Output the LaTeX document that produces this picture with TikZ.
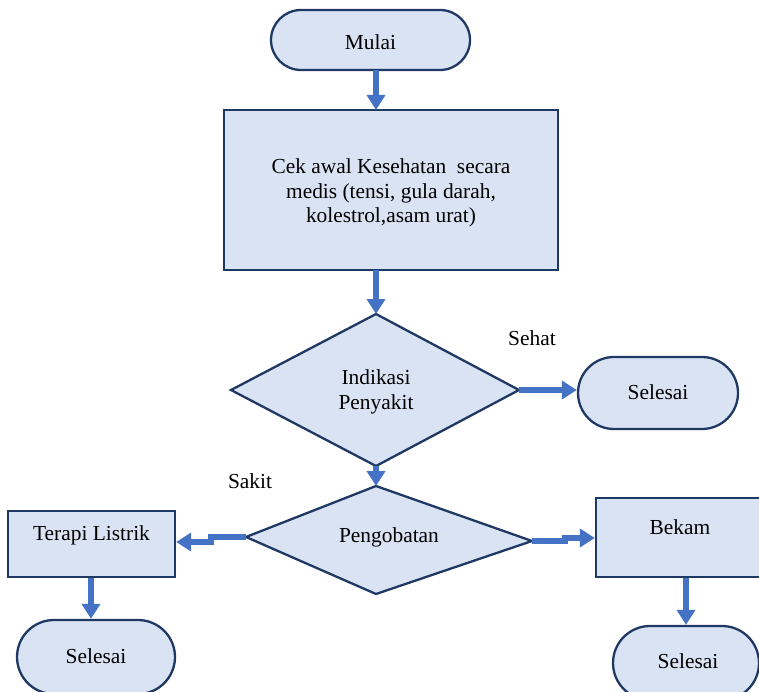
\documentclass[tikz,border=0pt]{standalone}
\usepackage{fontspec}
\setmainfont{Liberation Serif}
\usetikzlibrary{arrows.meta}
\definecolor{boxfill}{HTML}{DAE3F3}
\definecolor{boxline}{HTML}{1F3864}
\definecolor{arrowblue}{HTML}{4472C4}
\begin{document}
\begin{tikzpicture}[x=1pt,y=-1pt,
  txt/.style={font=\fontsize{21.4}{24.5}\selectfont, align=center, inner sep=0pt, text=black},
  stadium/.style={draw=boxline, fill=boxfill, line width=2.3pt, rounded corners=34pt, minimum width=#1, minimum height=68pt, inner sep=0pt},
  rectbox/.style={draw=boxline, fill=boxfill, line width=2.3pt, inner sep=0pt},
  diam/.style={draw=boxline, fill=boxfill, line width=2.3pt, line join=miter},
  flow/.style={draw=arrowblue, line width=6pt, line join=miter, -{Triangle[length=15pt,width=18pt]}}
]
\useasboundingbox (0,0) rectangle (759,692);
\clip (0,0) rectangle (759,692);

% start
\node[stadium=199pt, minimum height=60pt, rounded corners=30pt] (mulai) at (370.5,40) {};
\node[txt] (tmulai) at (370.5,42) {Mulai};

% check box
\node[rectbox, minimum width=334pt, minimum height=160pt] (cek) at (391,190) {};
\node[txt] (tcek) at (391,193) {Cek awal Kesehatan ~secara\\medis (tensi, gula darah,\\kolestrol,asam urat)};

% diamond 1
\coordinate (d1t) at (376,314);
\coordinate (d1r) at (519,390);
\coordinate (d1b) at (376,466);
\coordinate (d1l) at (231,390);
\draw[diam] (d1t) -- (d1r) -- (d1b) -- (d1l) -- cycle;
\node[txt] (td1) at (376,392) {Indikasi\\Penyakit};

% selesai right of diamond 1
\node[stadium=160pt, minimum height=72pt, rounded corners=36pt] (sel1) at (658,393) {};
\node[txt] (tsel1) at (658,392) {Selesai};

% diamond 2
\coordinate (d2t) at (376,486);
\coordinate (d2r) at (532,541);
\coordinate (d2b) at (376,594);
\coordinate (d2l) at (246,537);
\draw[diam] (d2t) -- (d2r) -- (d2b) -- (d2l) -- cycle;
\node[txt] (td2) at (389,537) {Pengobatan};

% terapi listrik
\node[rectbox, minimum width=167pt, minimum height=66pt] (terapi) at (91.5,544) {};
\node[txt] (tterapi) at (91.5,535) {Terapi Listrik};

% bekam
\node[rectbox, minimum width=170pt, minimum height=79pt] (bekam) at (681,537.5) {};
\node[txt] (tbekam) at (680,527) {Bekam};

% selesai bottom left
\node[stadium=158pt, minimum height=74pt, rounded corners=37pt] (sel2) at (96,657) {};
\node[txt] (tsel2) at (96,656) {Selesai};

% selesai bottom right
\node[stadium=146pt, minimum height=74pt, rounded corners=37pt] (sel3) at (686,663) {};
\node[txt] (tsel3) at (688,661) {Selesai};

% labels
\node[txt] (sehat) at (532,338) {Sehat};
\node[txt] (sakit) at (250,481) {Sakit};

% connectors
\draw[flow] (376,70) -- (376,110);
\draw[flow] (376,270) -- (d1t);
\draw[flow] (d1r) -- (sel1.west |- d1r);
\draw[flow] (d1b) -- (d2t);
\coordinate (jl1) at (211,537);
\coordinate (jl2) at (211,542);
\draw[flow] (d2l) -- (jl1) -- (jl2) -- (terapi.east |- jl2);
\coordinate (jr1) at (565,541);
\coordinate (jr2) at (565,538);
\draw[flow] (d2r) -- (jr1) -- (jr2) -- (bekam.west |- jr2);
\draw[flow] (terapi.south -| 91,0) -- (sel2.north -| 91,0);
\draw[flow] (bekam.south -| 686,0) -- (sel3.north -| 686,0);
\end{tikzpicture}
\end{document}
